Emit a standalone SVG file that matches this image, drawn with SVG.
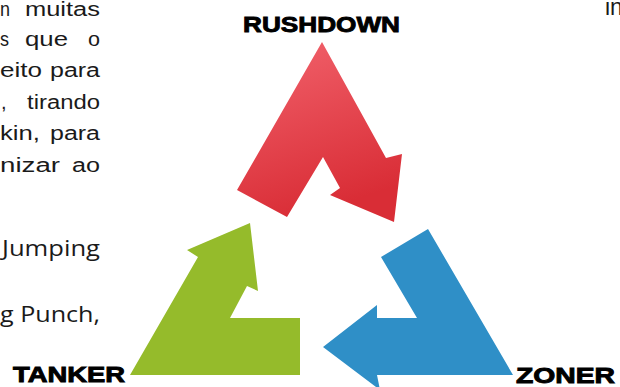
<svg xmlns="http://www.w3.org/2000/svg" width="620" height="387" viewBox="0 0 620 387">
  <defs>
    <linearGradient id="redGrad" x1="0" y1="0" x2="0.3" y2="1">
      <stop offset="0" stop-color="#f2636d"/>
      <stop offset="1" stop-color="#d92d36"/>
    </linearGradient>
    <style>
      .body { font-family: "Liberation Sans", "DejaVu Sans", sans-serif; font-size: 20px; fill: #1a1a1a; }
      .body2 { font-family: "Open Sans", "Liberation Sans", sans-serif; font-size: 21px; fill: #1a1a1a; }
      .label { font-family: "Liberation Sans", Arial, sans-serif; font-weight: 900; font-size: 22px; fill: #000; stroke: #000; stroke-width: 0.9; }
    </style>
  </defs>
  <rect width="620" height="387" fill="#ffffff"/>

  <g id="paragraph">
    <text class="body" y="16"><tspan x="0" textLength="10" lengthAdjust="spacingAndGlyphs">n</tspan><tspan x="25" textLength="75" lengthAdjust="spacingAndGlyphs">muitas</tspan></text>
    <text class="body" y="46"><tspan x="0" textLength="9" lengthAdjust="spacingAndGlyphs">s</tspan><tspan x="25" textLength="43" lengthAdjust="spacingAndGlyphs">que</tspan><tspan x="88" textLength="12" lengthAdjust="spacingAndGlyphs">o</tspan></text>
    <text class="body" y="77"><tspan x="0" textLength="42" lengthAdjust="spacingAndGlyphs">eito</tspan><tspan x="50" textLength="50" lengthAdjust="spacingAndGlyphs">para</tspan></text>
    <text class="body" y="109"><tspan x="1">,</tspan><tspan x="27" textLength="73" lengthAdjust="spacingAndGlyphs">tirando</tspan></text>
    <text class="body" y="140"><tspan x="0" textLength="40" lengthAdjust="spacingAndGlyphs">kin,</tspan><tspan x="50" textLength="50" lengthAdjust="spacingAndGlyphs">para</tspan></text>
    <text class="body" y="172"><tspan x="0" textLength="60" lengthAdjust="spacingAndGlyphs">nizar</tspan><tspan x="72" textLength="28" lengthAdjust="spacingAndGlyphs">ao</tspan></text>
    <text class="body2" x="2" y="256" textLength="98" lengthAdjust="spacingAndGlyphs">Jumping</text>
    <text class="body2" x="0" y="322" textLength="100" lengthAdjust="spacingAndGlyphs">g Punch,</text>
    <text class="body" x="605" y="15" style="font-size:23px">in</text>
  </g>

  <g id="connectors">
    <polygon id="red-arrow" fill="url(#redGrad)" points="322,42 237,190 287,217 323,157 340,188 330,195 394,222 402,154 386,158"/>
    <polygon id="blue-arrow" fill="#2f8fc7" points="428,229 381,257 417,318 377,318 377,305 323,347 380,390 377,375 513,375"/>
    <polygon id="green-arrow" fill="#95bb2b" points="130,375 300,375 300,318 230,318 247,286 258,291 250,223 187,250 198,257"/>
  </g>

  <g id="node-rushdown">
    <text class="label" x="243" y="32" textLength="157" lengthAdjust="spacingAndGlyphs">RUSHDOWN</text>
  </g>
  <g id="node-tanker">
    <text class="label" x="13" y="382" textLength="112" lengthAdjust="spacingAndGlyphs">TANKER</text>
  </g>
  <g id="node-zoner">
    <text class="label" x="516" y="383" textLength="99" lengthAdjust="spacingAndGlyphs">ZONER</text>
  </g>
</svg>
